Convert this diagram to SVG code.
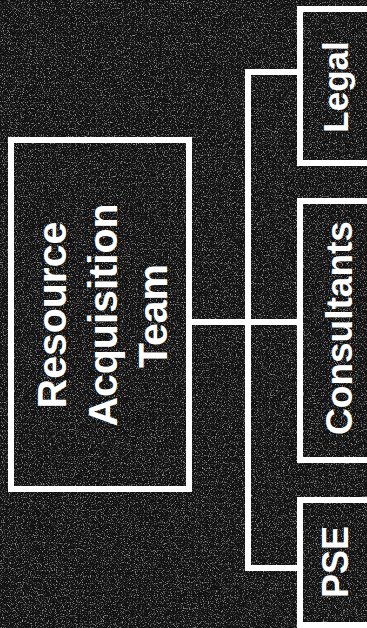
<svg xmlns="http://www.w3.org/2000/svg" width="367" height="628" viewBox="0 0 367 628">
<defs>
<filter id="noise" x="0" y="0" width="100%" height="100%">
<feTurbulence type="fractalNoise" baseFrequency="0.85" numOctaves="2" seed="7" result="t"/>
<feColorMatrix type="matrix" values="0 0 0 0 1  0 0 0 0 1  0 0 0 0 1  4 0 0 0 -2.1"/>
</filter>
</defs>
<style>
.box{fill:none;stroke:#fff;stroke-width:6}
.conn{fill:none;stroke:#fff;stroke-width:6;stroke-linecap:square}
.lbl{fill:#fff;font-family:"Liberation Sans",Arial,sans-serif;font-weight:bold;text-anchor:middle}
</style>
<rect x="0" y="0" width="367" height="628" fill="#121212"/>
<rect x="0" y="0" width="367" height="628" fill="#fff" filter="url(#noise)" opacity="0.55"/>
<g id="connectors">
<path class="conn" d="M189 322 H300"/>
<path class="conn" d="M300 72 H248 V568 H300"/>
</g>
<g id="node-rat">
<rect class="box" x="11" y="140" width="178" height="349"/>
<text class="lbl" font-size="41" transform="translate(66,315) rotate(-90)">Resource</text>
<text class="lbl" font-size="41" transform="translate(117,315) rotate(-90)">Acquisition</text>
<text class="lbl" font-size="41" transform="translate(167,316) rotate(-90)">Team</text>
</g>
<g id="node-legal">
<rect class="box" x="300" y="9" width="100" height="154"/>
<text class="lbl" font-size="35" transform="translate(348,87) rotate(-90)">Legal</text>
</g>
<g id="node-consultants">
<rect class="box" x="300" y="201" width="100" height="259"/>
<text class="lbl" font-size="37" transform="translate(352,328) rotate(-90)">Consultants</text>
</g>
<g id="node-pse">
<rect class="box" x="300" y="500" width="100" height="125"/>
<text class="lbl" font-size="36" transform="translate(348,562) rotate(-90)">PSE</text>
</g>
</svg>
